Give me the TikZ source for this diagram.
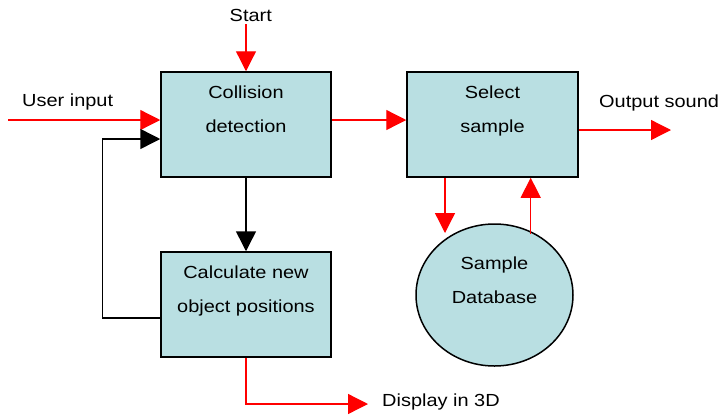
\documentclass[tikz,border=0pt]{standalone}
\usepackage{fontspec}
\setmainfont[FakeStretch=1.14]{Liberation Sans}
\usetikzlibrary{arrows.meta,shapes.geometric}
\definecolor{boxfill}{HTML}{B9DFE2}
\definecolor{linered}{HTML}{FF0000}

\begin{document}
\begin{tikzpicture}[x=1pt,y=-1pt,
    blk/.style={draw,line width=1.5pt,fill=boxfill,minimum width=170pt,minimum height=105pt,inner sep=0pt},
    dbshape/.style={ellipse,draw,line width=1.5pt,fill=boxfill,minimum width=157pt,minimum height=142pt,inner sep=0pt},
    inside/.style={anchor=north,align=center,inner sep=0pt,font=\fontsize{17.5}{34}\selectfont},
    lbl/.style={inner sep=2pt,font=\fontsize{17.5}{21}\selectfont},
    redarr/.style={draw=linered,line width=1.3pt,-{Triangle[length=20pt,width=20pt]}},
    blkarr/.style={draw=black,line width=1.5pt,-{Triangle[length=20pt,width=20pt]}}]
  \useasboundingbox (0,0) rectangle (721,416);

  \node[blk,label={[inside,yshift=-14.8pt]north:{Collision\\detection}}] (cd) at (246,124.5) {};
  \node[blk,minimum width=171pt,label={[inside,yshift=-14.8pt]north:{Select\\sample}}] (sel) at (492.5,124.5) {};
  \node[blk,label={[inside,yshift=-14.8pt]north:{Calculate new\\object positions}}] (calc) at (246,304.5) {};
  \node[dbshape,label={[inside,yshift=-33.5pt]north:{Sample\\Database}}] (db) at (494.5,295) {};

  \node[lbl,anchor=base] (start) at (250.8,21.7) {Start};
  \node[lbl,anchor=base west] (uintxt) at (20,106.5) {User input};
  \node[lbl,anchor=base west] (outtxt) at (597,107.3) {Output sound};
  \node[lbl,anchor=base west] (disptxt) at (380,406.7) {Display in 3D};

  \coordinate (uin) at (8,120);
  \coordinate (out) at (671,130);
  \coordinate (dbin) at (445,233);
  \coordinate (dbout) at (530.7,234);
  \coordinate (disp) at (368,404);

  \draw[redarr] (start.south -| cd.north) -- (cd.north);
  \draw[redarr] (uin) -- (uin -| cd.west);
  \draw[redarr] ([yshift=4.5pt]cd.east) -- ([yshift=4.5pt]sel.west);
  \draw[redarr] (out -| sel.east) -- (out);
  \draw[redarr] (dbin |- sel.south) -- (dbin);
  \draw[redarr] (dbout) -- (dbout |- sel.south);
  \draw[redarr] (calc.south) |- (disp);
  \draw[blkarr] (cd.south) -- (calc.north);
  \draw[blkarr] ([yshift=-13.5pt]calc.west) -- ++(-58,0) |- ([yshift=-14.5pt]cd.west);
\end{tikzpicture}
\end{document}
